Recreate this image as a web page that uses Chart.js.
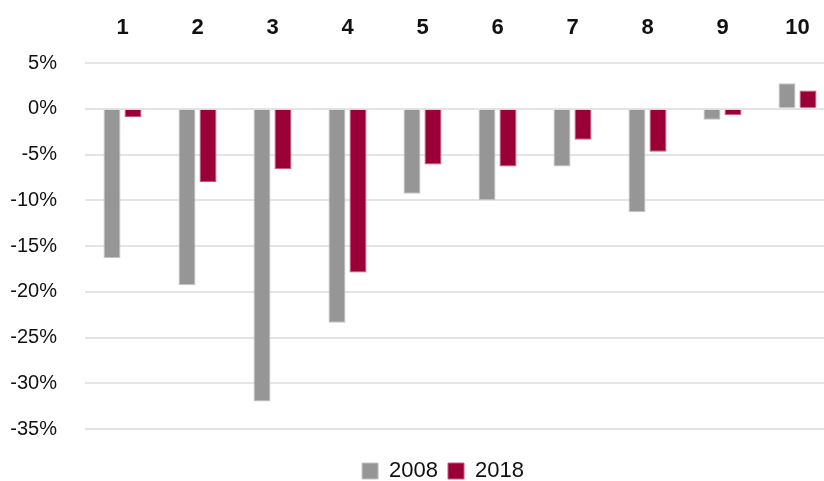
<!DOCTYPE html>
<html>
<head>
<meta charset="utf-8">
<script src="https://cdn.jsdelivr.net/npm/chart.js@4"></script>
<style>
  html, body { margin: 0; padding: 0; background: #fff; overflow: hidden; }
  #wrap { width: 824px; height: 481px; overflow: hidden; position: relative; }
  canvas { display: block; }
</style>
</head>
<body>
<div id="wrap"><canvas id="c" width="836" height="481"></canvas></div>
<script>
const categories = ['1', '2', '3', '4', '5', '6', '7', '8', '9', '10'];
const seriesNames = ['2008', '2018'];
const values2008 = [-16.3, -19.3, -32.0, -23.4, -9.3, -10.0, -6.3, -11.3, -1.2, 2.8];
const values2018 = [-0.9, -8.0, -6.6, -17.9, -6.1, -6.3, -3.4, -4.7, -0.7, 2.0];
const yMin = -35, yMax = 5, yStep = 5;

const FONT = '"Liberation Sans", Arial, sans-serif';

const legendShift = {
  id: 'legendShift',
  afterLayout(chart) {
    const l = chart.legend;
    if (!l) return;
    l.left = 50;
    l.right = 836;
    l.top += 21;
    l.bottom += 21;
  }
};

new Chart(document.getElementById('c'), {
  type: 'bar',
  data: {
    labels: categories,
    datasets: [
      { label: seriesNames[0], data: values2008, backgroundColor: '#969696', borderColor: '#c4c4c4', borderWidth: 1 },
      { label: seriesNames[1], data: values2018, backgroundColor: '#9a0036', borderColor: '#c8557c', borderWidth: 1 }
    ]
  },
  options: {
    responsive: false,
    animation: false,
    layout: { padding: { left: 0, right: 1, top: 0, bottom: 10 } },
    datasets: { bar: { barPercentage: 0.81, categoryPercentage: 0.56 } },
    plugins: {
      legend: {
        position: 'bottom',
        labels: {
          boxWidth: 16, boxHeight: 16, padding: 10,
          color: '#111',
          font: { family: FONT, size: 22 }
        }
      },
      tooltip: { enabled: false }
    },
    scales: {
      x: {
        position: 'top',
        grid: { display: false, drawTicks: false },
        border: { display: false },
        ticks: { color: '#111', padding: 22, font: { family: FONT, size: 22, weight: 'bold' } },
        afterFit(scale) { scale.height = 63; }
      },
      y: {
        min: yMin, max: yMax,
        grid: { color: '#e4e4e4', lineWidth: 2, drawTicks: false },
        border: { display: false },
        ticks: {
          stepSize: yStep,
          padding: 28,
          color: '#111',
          font: { family: FONT, size: 20 },
          callback: v => v + '%'
        },
        afterFit(scale) { scale.width = 85; }
      }
    }
  },
  plugins: [legendShift]
});
</script>
</body>
</html>
